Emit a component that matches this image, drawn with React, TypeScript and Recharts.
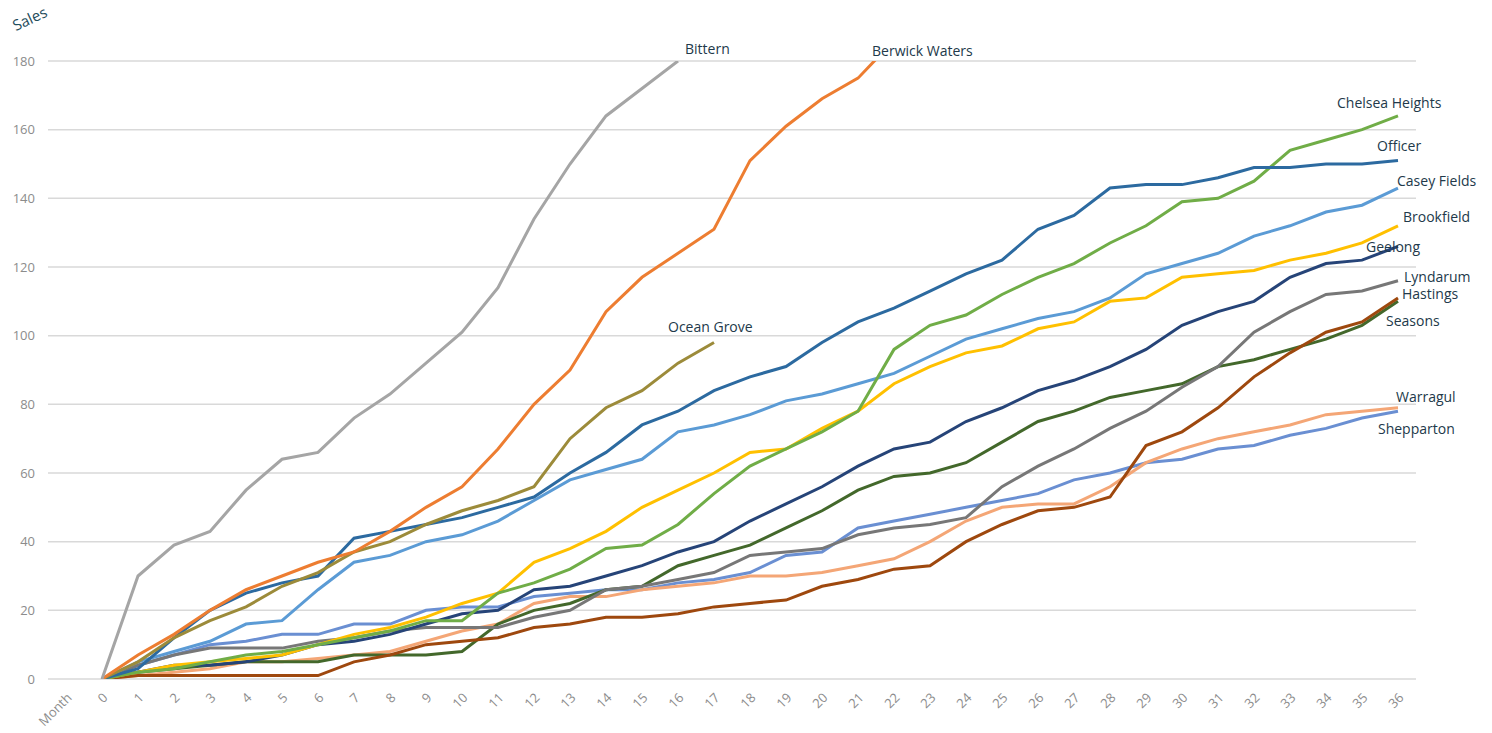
import React from 'react';
import {
  LineChart,
  Line,
  XAxis,
  YAxis,
  CartesianGrid,
  LabelList
} from 'recharts';

// month categories (first one is the axis title, as in the sheet)
const months = ['Month', ...Array.from({ length: 37 }, (_, i) => String(i))];
const yTicks = [0, 20, 40, 60, 80, 100, 120, 140, 160, 180];

// cumulative sales per estate, month 0 onwards
const bittern = [0, 30, 39, 43, 55, 64, 66, 76, 83, 92, 101, 114, 134, 150, 164, 172, 180];
const berwickWaters = [0, 7, 13, 20, 26, 30, 34, 37, 43, 50, 56, 67, 80, 90, 107, 117, 124, 131, 151, 161, 169, 175, 186];
const oceanGrove = [0, 5, 12, 17, 21, 27, 31, 37, 40, 45, 49, 52, 56, 70, 79, 84, 92, 98];
const officer = [0, 3, 12, 20, 25, 28, 30, 41, 43, 45, 47, 50, 53, 60, 66, 74, 78, 84, 88, 91, 98, 104, 108, 113, 118, 122, 131, 135, 143, 144, 144, 146, 149, 149, 150, 150, 151];
const chelseaHeights = [0, 2, 3, 5, 7, 8, 10, 12, 14, 17, 17, 25, 28, 32, 38, 39, 45, 54, 62, 67, 72, 78, 96, 103, 106, 112, 117, 121, 127, 132, 139, 140, 145, 154, 157, 160, 164];
const caseyFields = [0, 5, 8, 11, 16, 17, 26, 34, 36, 40, 42, 46, 52, 58, 61, 64, 72, 74, 77, 81, 83, 86, 89, 94, 99, 102, 105, 107, 111, 118, 121, 124, 129, 132, 136, 138, 143];
const brookfield = [0, 2, 4, 5, 6, 7, 10, 13, 15, 18, 22, 25, 34, 38, 43, 50, 55, 60, 66, 67, 73, 78, 86, 91, 95, 97, 102, 104, 110, 111, 117, 118, 119, 122, 124, 127, 132];
const geelong = [0, 2, 4, 4, 5, 7, 10, 11, 13, 16, 19, 20, 26, 27, 30, 33, 37, 40, 46, 51, 56, 62, 67, 69, 75, 79, 84, 87, 91, 96, 103, 107, 110, 117, 121, 122, 126];
const lyndarum = [0, 4, 7, 9, 9, 9, 11, 12, 14, 15, 15, 15, 18, 20, 26, 27, 29, 31, 36, 37, 38, 42, 44, 45, 47, 56, 62, 67, 73, 78, 85, 91, 101, 107, 112, 113, 116];
const hastings = [0, 1, 1, 1, 1, 1, 1, 5, 7, 10, 11, 12, 15, 16, 18, 18, 19, 21, 22, 23, 27, 29, 32, 33, 40, 45, 49, 50, 53, 68, 72, 79, 88, 95, 101, 104, 111];
const seasons = [0, 2, 3, 4, 5, 5, 5, 7, 7, 7, 8, 16, 20, 22, 26, 27, 33, 36, 39, 44, 49, 55, 59, 60, 63, 69, 75, 78, 82, 84, 86, 91, 93, 96, 99, 103, 110];
const warragul = [0, 1, 2, 3, 5, 5, 6, 7, 8, 11, 14, 16, 22, 24, 24, 26, 27, 28, 30, 30, 31, 33, 35, 40, 46, 50, 51, 51, 56, 63, 67, 70, 72, 74, 77, 78, 79];
const shepparton = [0, 4, 7, 10, 11, 13, 13, 16, 16, 20, 21, 21, 24, 25, 26, 26, 28, 29, 31, 36, 37, 44, 46, 48, 50, 52, 54, 58, 60, 63, 64, 67, 68, 71, 73, 76, 78];

// name, values, colour, month the name sits on, label nudge
const series = [
  { key: 'Shepparton', values: shepparton, color: '#6A8FD2', at: 36, dx: -20, dy: 17 },
  { key: 'Warragul', values: warragul, color: '#F4A676', at: 36, dx: -2, dy: -11 },
  { key: 'Seasons', values: seasons, color: '#43682B', at: 36, dx: -12, dy: 19 },
  { key: 'Hastings', values: hastings, color: '#9E480E', at: 36, dx: 4, dy: -4 },
  { key: 'Lyndarum', values: lyndarum, color: '#777777', at: 36, dx: 6, dy: -4 },
  { key: 'Geelong', values: geelong, color: '#264478', at: 36, dx: -32, dy: 0 },
  { key: 'Brookfield', values: brookfield, color: '#FFC000', at: 36, dx: 5, dy: -9 },
  { key: 'Casey Fields', values: caseyFields, color: '#5B9BD5', at: 36, dx: -1, dy: -8 },
  { key: 'Chelsea Heights', values: chelseaHeights, color: '#70AD47', at: 36, dx: -61, dy: -13 },
  { key: 'Officer', values: officer, color: '#2C6AA0', at: 36, dx: -21, dy: -15 },
  { key: 'Ocean Grove', values: oceanGrove, color: '#9C8B3A', at: 17, dx: -46, dy: -16 },
  { key: 'Berwick Waters', values: berwickWaters, color: '#ED7D31', at: 21, dx: 14, dy: -28 },
  { key: 'Bittern', values: bittern, color: '#A5A5A5', at: 16, dx: 7, dy: -13 }
];

const data = months.map((m, i) => {
  const row: Record<string, any> = { month: m };
  if (i > 0) {
    series.forEach(s => {
      const v = s.values[i - 1];
      if (v !== undefined) row[s.key] = v;
    });
  }
  return row;
});

const MonthTick = (props: any) => {
  const { x, y, payload } = props;
  const ax = x + 3;
  const ay = y + 8;
  return (
    <text
      x={ax}
      y={ay}
      transform={`rotate(-45 ${ax} ${ay})`}
      textAnchor="end"
      dominantBaseline="central"
      fill="#8C8C8C"
      stroke="none"
      fontSize={13}
      fontFamily="'Open Sans', sans-serif"
    >
      {payload.value}
    </text>
  );
};

const salesLabel = () => (
  <text
    x={30}
    y={24}
    transform="rotate(-25 30 19)"
    textAnchor="middle"
    fill="#1F4D5C"
    fontSize={15}
    fontFamily="'Open Sans', sans-serif"
  >
    Sales
  </text>
);

const nameLabel = (name: string, at: number, dx: number, dy: number) => (props: any) => {
  const { x, y, index } = props;
  if (index !== at + 1 || x == null || y == null) return null;
  return (
    <text
      x={x + dx}
      y={y + dy}
      dominantBaseline="central"
      fill="#22394A"
      fontSize={14}
      fontFamily="'Open Sans', sans-serif"
    >
      {name}
    </text>
  );
};

const App = () => {
  return (
    <div style={{ position: 'absolute', left: 0, top: 0, background: '#fff' }}>
      <LineChart
        width={1492}
        height={733}
        data={data}
        margin={{ top: 61, right: 76, bottom: 0, left: 0 }}
      >
        <CartesianGrid vertical={false} stroke="#D9D9D9" strokeWidth={1.5} />
        <XAxis
          dataKey="month"
          type="category"
          interval={0}
          height={54}
          padding={{ left: 18, right: 18 }}
          axisLine={false}
          tickLine={false}
          tick={<MonthTick />}
        />
        <YAxis
          width={48}
          domain={[0, 180]}
          ticks={yTicks}
          allowDataOverflow
          axisLine={false}
          tickLine={false}
          tickMargin={7}
          tick={{ fill: '#8C8C8C', fontSize: 13, fontFamily: "'Open Sans', sans-serif" }}
          label={salesLabel}
        />
        {series.map(s => (
          <Line
            key={s.key}
            dataKey={s.key}
            stroke={s.color}
            strokeWidth={3}
            dot={false}
            type="linear"
            isAnimationActive={false}
          >
            <LabelList dataKey={s.key} content={nameLabel(s.key, s.at, s.dx, s.dy)} />
          </Line>
        ))}
      </LineChart>
    </div>
  );
};

export default App;
